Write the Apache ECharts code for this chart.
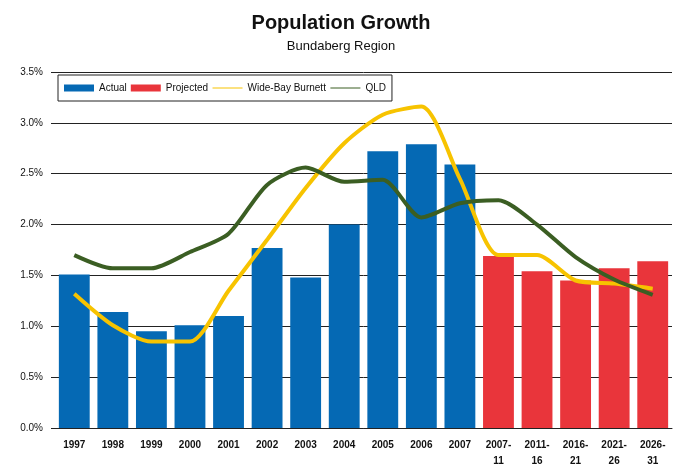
<!DOCTYPE html>
<html>
<head>
<meta charset="utf-8">
<script src="https://cdn.jsdelivr.net/npm/echarts@6/dist/echarts.min.js"></script>
<style>
  html, body { margin: 0; padding: 0; background: #fff; }
  #chart { width: 682px; height: 464px; }
</style>
</head>
<body>
<div id="chart"></div>
<script>
// Population growth, Bundaberg Region (annual %)
const categories = ['1997', '1998', '1999', '2000', '2001', '2002', '2003', '2004', '2005', '2006', '2007',
  '2007-\n11', '2011-\n16', '2016-\n21', '2021-\n26', '2026-\n31'];

const actual = [1.51, 1.14, 0.95, 1.01, 1.10, 1.77, 1.48, 2.00, 2.72, 2.79, 2.59,
  null, null, null, null, null];
const projected = [null, null, null, null, null, null, null, null, null, null, null,
  1.69, 1.54, 1.45, 1.57, 1.64];
const wideBayBurnett = [1.32, 1.01, 0.85, 0.85, 1.35, 1.85, 2.36, 2.80, 3.08, 3.16, 2.45,
  1.70, 1.70, 1.45, 1.42, 1.37];
const qld = [1.70, 1.57, 1.57, 1.73, 1.91, 2.39, 2.56, 2.42, 2.44, 2.07, 2.21,
  2.24, 2.00, 1.68, 1.46, 1.31];

const yTicks = { min: 0, max: 3.5, interval: 0.5 };

const fontFamily = 'Liberation Sans, Arial, sans-serif';

const chart = echarts.init(document.getElementById('chart'));
chart.setOption({
  animation: false,
  backgroundColor: '#fff',
  title: {
    text: 'Population Growth',
    subtext: 'Bundaberg Region',
    left: 'center',
    top: 8,
    itemGap: 7,
    textStyle: { fontFamily, fontSize: 20, fontWeight: 'bold', color: '#111' },
    subtextStyle: { fontFamily, fontSize: 13, color: '#111' }
  },
  legend: {
    left: 58,
    top: 75,
    padding: [8, 6, 8, 6],
    itemGap: 4,
    itemWidth: 30,
    itemHeight: 7,
    backgroundColor: '#fff',
    borderColor: '#222',
    borderWidth: 1,
    textStyle: { fontFamily, fontSize: 10, color: '#111' },
    data: [
      { name: 'Actual', icon: 'rect' },
      { name: 'Projected', icon: 'rect' },
      { name: 'Wide-Bay Burnett', itemStyle: { opacity: 0 }, lineStyle: { width: 1 } },
      { name: 'QLD', itemStyle: { opacity: 0 }, lineStyle: { width: 1 } }
    ]
  },
  grid: { left: 55, right: 10, top: 72, bottom: 36, outerBoundsMode: 'none', containLabel: false },
  xAxis: {
    type: 'category',
    data: categories,
    axisLine: { lineStyle: { color: '#222' } },
    axisTick: { show: false },
    axisLabel: {
      interval: 0,
      margin: 9,
      fontFamily,
      fontSize: 10,
      fontWeight: 'bold',
      color: '#111',
      lineHeight: 16
    }
  },
  yAxis: {
    type: 'value',
    min: yTicks.min,
    max: yTicks.max,
    interval: yTicks.interval,
    axisLine: { show: false },
    axisTick: { show: true, length: 4, lineStyle: { color: '#222' } },
    axisLabel: {
      margin: 12,
      fontFamily,
      fontSize: 10,
      color: '#111',
      formatter: v => v.toFixed(1) + '%'
    },
    splitLine: { lineStyle: { color: '#222', width: 1 } }
  },
  series: [
    {
      name: 'Actual',
      type: 'bar',
      data: actual,
      barWidth: '80%',
      barGap: '-100%',
      itemStyle: { color: '#0569b4' }
    },
    {
      name: 'Projected',
      type: 'bar',
      data: projected,
      barWidth: '80%',
      barGap: '-100%',
      itemStyle: { color: '#e9353b' }
    },
    {
      name: 'Wide-Bay Burnett',
      type: 'line',
      data: wideBayBurnett,
      symbol: 'none',
      smooth: 0.25,
      lineStyle: { color: '#f7c300', width: 4 },
      itemStyle: { color: '#f7c300' }
    },
    {
      name: 'QLD',
      type: 'line',
      data: qld,
      symbol: 'none',
      smooth: 0.25,
      lineStyle: { color: '#3b5e23', width: 4 },
      itemStyle: { color: '#3b5e23' }
    }
  ]
});
</script>
</body>
</html>
